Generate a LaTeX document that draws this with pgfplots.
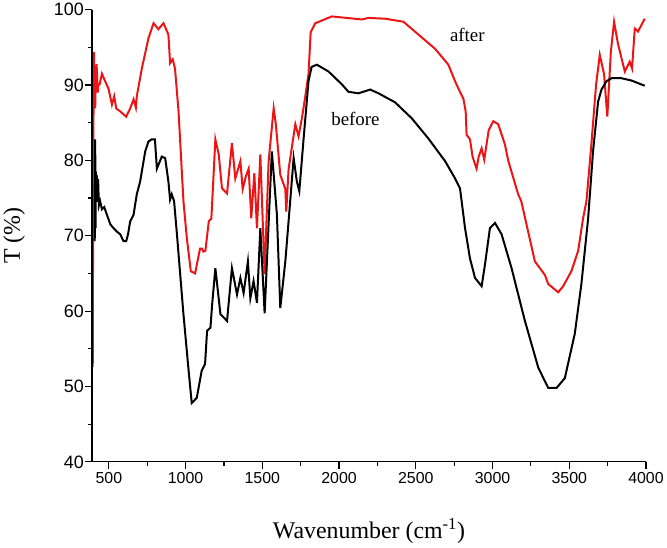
\documentclass[border=0pt]{standalone}
\usepackage{fontspec}
\setmainfont{Liberation Serif}
\newfontfamily\arial{Liberation Sans}
\usepackage{pgfplots}
\pgfplotsset{compat=1.18}
\definecolor{myred}{RGB}{236,20,20}
\begin{document}
\begin{tikzpicture}
\begin{axis}[
  scale only axis, width=555bp, height=453bp,
  xmin=390, xmax=4000, ymin=40, ymax=100,
  axis line style={draw=none},
  xtick pos=bottom, ytick pos=left,
  xtick={500,1000,...,4000}, ytick={40,50,...,100},
  minor xtick={750,1250,...,3750}, minor ytick={45,55,...,95},
  tick align=outside,
  major tick length=7bp, minor tick length=4bp,
  tick style={black, line width=1.2bp},
  xticklabel={\pgfmathprintnumber[assume math mode=true,set thousands separator={}]{\tick}},
  yticklabel={\pgfmathprintnumber[assume math mode=true]{\tick}},
  xticklabel style={font=\arial\fontsize{16}{16}\selectfont},
  yticklabel style={font=\arial\fontsize{18}{18}\selectfont, inner xsep=1bp},
  xlabel={Wavenumber (cm\textsuperscript{-1})},
  ylabel={T (\%)},
  label style={font=\fontsize{24}{24}\selectfont},
  xlabel style={at={(axis description cs:0.5,-0.17)}, anchor=base},
  ylabel style={at={(axis description cs:-0.1405,0.5)}, anchor=center},
  clip=false,
]
\addplot[myred, line width=2bp] coordinates {
(395,52.6)(398,75)(401,92)(404,94.4)(407,88)(411,86.9)(415,91)(420,92.8)(428,89)(432,90.1)(440,90.1)(455,91.5)(476,90.5)(498,89.5)(520,87.4)(535,88.5)(548,86.9)(574,86.5)(613,85.8)(639,86.9)(661,88.1)(676,87.0)(682,88.5)(715,92.2)(758,96.2)(791,98.2)(823,97.4)(856,98.2)(888,96.7)(899,92.9)(916,93.4)(931,92.2)(954,86.5)(986,74.6)(1008,69.7)(1034,65.3)(1062,65.0)(1094,68.3)(1107,68.3)(1116,67.9)(1129,68.0)(1151,71.9)(1168,72.3)(1194,82.8)(1216,80.8)(1237,76.3)(1270,75.6)(1302,82.3)(1324,77.6)(1357,79.9)(1372,76.2)(1393,77.9)(1411,78.9)(1428,72.3)(1448,78.3)(1465,71.0)(1487,80.8)(1515,64.9)(1541,79.9)(1574,86.9)(1588,84.8)(1617,78.1)(1650,76.2)(1656,73.2)(1671,78.8)(1715,84.8)(1736,83.2)(1758,85.6)(1780,88.5)(1801,91.5)(1815,97)(1845,98.2)(1953,99.1)(2050,98.9)(2148,98.7)(2192,98.9)(2300,98.8)(2419,98.4)(2517,96.7)(2626,94.8)(2712,92.7)(2756,90.5)(2790,89)(2810,88.2)(2825,86.5)(2831,83.4)(2853,82.8)(2870,80.5)(2896,78.9)(2910,80.5)(2929,81.6)(2946,80.1)(2975,84)(3005,85.2)(3037,84.8)(3081,82.1)(3102,80)(3167,75.5)(3187,74.6)(3276,66.6)(3341,64.8)(3363,63.6)(3428,62.5)(3460,63.3)(3514,65.3)(3558,68.0)(3590,72.3)(3612,74.6)(3644,82.1)(3666,87.8)(3675,90.1)(3699,94.0)(3727,91.4)(3748,85.8)(3771,94.4)(3792,98.4)(3818,95.4)(3862,91.8)(3894,93.1)(3909,92.2)(3927,97.5)(3948,97.1)(3992,98.8)
};
\addplot[black, line width=2bp] coordinates {
(408,69.3)(411,82.8)(413,71)(416,78.5)(419,75)(422,78)(426,74.5)(430,77.5)(435,74)(443,74.6)(455,73.5)(470,73.8)(487,72.8)(510,71.5)(531,71.0)(555,70.5)(574,70.2)(595,69.3)(613,69.3)(625,70.2)(639,71.9)(661,72.8)(682,75.5)(704,77.2)(737,81.2)(758,82.5)(780,82.8)(800,82.8)(813,78.9)(845,80.5)(867,80.3)(888,77.2)(899,74.8)(910,75.5)(925,74.6)(942,70.6)(986,59.6)(1018,52.5)(1040,47.8)(1073,48.5)(1105,52.1)(1127,53.0)(1140,57.4)(1162,57.8)(1173,60.9)(1194,65.7)(1227,59.6)(1270,58.7)(1302,65.7)(1335,62.2)(1357,64.4)(1378,62.4)(1406,66.6)(1422,61.7)(1443,64.0)(1465,61.1)(1487,71.0)(1515,59.7)(1562,81.2)(1595,72.8)(1617,60.4)(1650,66.6)(1671,71.9)(1704,80.3)(1725,77.2)(1741,75.9)(1769,82.9)(1801,90.5)(1821,92.4)(1855,92.7)(1931,91.8)(2018,90.1)(2061,89.1)(2127,88.9)(2203,89.4)(2257,88.9)(2365,87.7)(2473,85.6)(2582,82.9)(2691,79.9)(2756,77.6)(2788,76.3)(2821,71.0)(2853,67.0)(2886,64.4)(2929,63.3)(2951,66.2)(2983,71.0)(3016,71.7)(3059,70.2)(3124,65.7)(3211,58.7)(3298,52.5)(3363,49.8)(3417,49.8)(3471,51.1)(3536,57.0)(3579,63.6)(3623,72.3)(3655,81.2)(3688,87.8)(3710,89.4)(3742,90.5)(3775,90.9)(3840,90.9)(3905,90.6)(3992,89.9)
};
\draw[line width=1.3bp] (rel axis cs:0,1) -- (rel axis cs:0,0) -- (rel axis cs:1,0);
\pgfplotsinvokeforeach{500,1000,1500,2000,2500,3000,3500,4000}{
  \draw[line width=1.2bp] (axis cs:#1,40) -- ([yshift=-7bp]axis cs:#1,40);
}
\pgfplotsinvokeforeach{750,1250,1750,2250,2750,3250,3750}{
  \draw[line width=1.2bp] (axis cs:#1,40) -- ([yshift=-4bp]axis cs:#1,40);
}
\pgfplotsinvokeforeach{40,50,60,70,80,90,100}{
  \draw[line width=1.2bp] (axis cs:390,#1) -- ([xshift=-7bp]axis cs:390,#1);
}
\pgfplotsinvokeforeach{45,55,65,75,85,95}{
  \draw[line width=1.2bp] (axis cs:390,#1) -- ([xshift=-4bp]axis cs:390,#1);
}
\node[font=\fontsize{19}{19}\selectfont] at (axis cs:2836,96.7) {after};
\node[font=\fontsize{19}{19}\selectfont] at (axis cs:2107,85.5) {before};
\end{axis}
\end{tikzpicture}
\end{document}
